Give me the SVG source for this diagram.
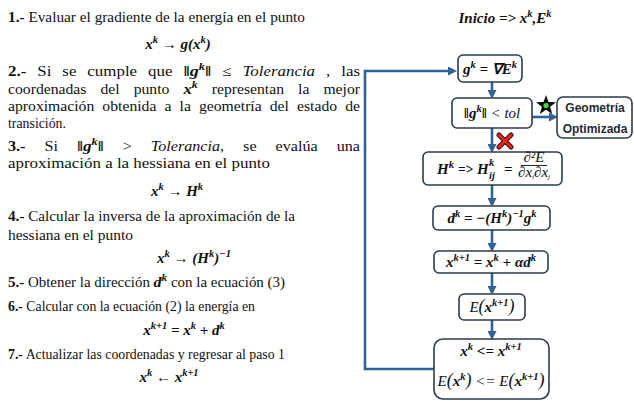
<svg xmlns="http://www.w3.org/2000/svg" width="634" height="401" viewBox="0 0 634 401">
<style>
.t{font-family:"Liberation Serif","Times New Roman",serif;font-size:14px;fill:#111}
.b{font-weight:bold}
.mi{font-style:italic}
.fm{font-family:"Liberation Serif","Times New Roman",serif;font-size:15px;font-style:italic;font-weight:bold;fill:#111}
.fc{font-family:"Liberation Serif","Times New Roman",serif;font-size:15px;font-style:italic;font-weight:bold;fill:#111}
.it{font-weight:normal}
.s{font-size:10.5px}
.s2{font-size:10.5px}
.box{fill:#fff;stroke:#2e3b4c;stroke-width:1.6}
.con{fill:none;stroke:#2f6394;stroke-width:2.6}
.sans{font-family:"Liberation Sans",Arial,sans-serif;font-weight:bold;font-size:12px;fill:#1e2a38}
</style>
<defs>
<marker id="ah" markerUnits="userSpaceOnUse" markerWidth="9" markerHeight="9" refX="2" refY="4.5" orient="auto">
<path d="M0,0 L9,4.5 L0,9 z" fill="#2f6394"/>
</marker>
</defs>
<rect width="634" height="401" fill="#fff"/>

<g id="steps">
<text class="t" x="8" y="22" textLength="297" lengthAdjust="spacingAndGlyphs"><tspan class="b">1.-</tspan> Evaluar el gradiente de la energía en el punto</text>
<text class="fm" x="178" y="49" text-anchor="middle">x<tspan class="s" dy="-6">k</tspan><tspan dy="6"> → g(x</tspan><tspan class="s" dy="-6">k</tspan><tspan dy="6">)</tspan></text>

<text class="t" x="8" y="76" word-spacing="5.6" textLength="352" lengthAdjust="spacingAndGlyphs"><tspan class="b">2.-</tspan> Si se cumple que <tspan class="fm">‖g</tspan><tspan class="fm s" dy="-6">k</tspan><tspan class="fm" dy="6">‖</tspan> ≤ <tspan class="mi">Tolerancia</tspan> , las</text>
<text class="t" x="8" y="94" word-spacing="9" textLength="352" lengthAdjust="spacingAndGlyphs">coordenadas del punto <tspan class="fm">x</tspan><tspan class="fm s" dy="-6">k</tspan><tspan dy="6"> representan la mejor</tspan></text>
<text class="t" x="8" y="111" word-spacing="3.7" textLength="352" lengthAdjust="spacingAndGlyphs">aproximación obtenida a la geometría del estado de</text>
<text class="t" x="8" y="128" textLength="58" lengthAdjust="spacingAndGlyphs">transición.</text>

<text class="t" x="8" y="151" word-spacing="13" textLength="352" lengthAdjust="spacingAndGlyphs"><tspan class="b">3.-</tspan> Si <tspan class="fm">‖g</tspan><tspan class="fm s" dy="-6">k</tspan><tspan class="fm" dy="6">‖</tspan> &gt; <tspan class="mi">Tolerancia,</tspan> se evalúa una</text>
<text class="t" x="8" y="168" textLength="262" lengthAdjust="spacingAndGlyphs">aproximación a la hessiana en el punto</text>

<text class="fm" x="177" y="196" text-anchor="middle">x<tspan class="s" dy="-6">k</tspan><tspan dy="6"> → H</tspan><tspan class="s" dy="-6">k</tspan></text>

<text class="t" x="8" y="221" textLength="287" lengthAdjust="spacingAndGlyphs"><tspan class="b">4.-</tspan> Calcular la inversa de la aproximación de la</text>
<text class="t" x="8" y="240" textLength="125" lengthAdjust="spacingAndGlyphs">hessiana en el punto</text>

<text class="fm" x="194" y="263" text-anchor="middle">x<tspan class="s" dy="-6">k</tspan><tspan dy="6"> → (H</tspan><tspan class="s" dy="-6">k</tspan><tspan dy="6">)</tspan><tspan class="s" dy="-6">−1</tspan></text>

<text class="t" x="8" y="287" textLength="277" lengthAdjust="spacingAndGlyphs"><tspan class="b">5.-</tspan> Obtener la dirección <tspan class="fm">d</tspan><tspan class="fm s" dy="-6">k</tspan><tspan dy="6"> con la ecuación (3)</tspan></text>
<text class="t" x="8" y="311" textLength="247" lengthAdjust="spacingAndGlyphs"><tspan class="b">6.-</tspan> Calcular con la ecuación (2) la energía en</text>

<text class="fm" x="184" y="335" text-anchor="middle">x<tspan class="s" dy="-6">k+1</tspan><tspan dy="6"> = x</tspan><tspan class="s" dy="-6">k</tspan><tspan dy="6"> +  d</tspan><tspan class="s" dy="-6">k</tspan></text>

<text class="t" x="8" y="359" textLength="277" lengthAdjust="spacingAndGlyphs"><tspan class="b">7.-</tspan> Actualizar las coordenadas y regresar al paso 1</text>
<text class="fm" x="169" y="382" text-anchor="middle">x<tspan class="s" dy="-6">k</tspan><tspan dy="6"> ← x</tspan><tspan class="s" dy="-6">k+1</tspan></text>
</g>

<g id="inicio">
<text class="fc" x="505" y="23" text-anchor="middle" font-size="16">Inicio =&gt; x<tspan class="s2" dy="-6">k</tspan><tspan dy="6">,E</tspan><tspan class="s2" dy="-6">k</tspan></text>
</g>

<g id="connectors">
<path class="con" d="M434,369 H365 V71 H450" stroke-width="3" marker-end="url(#ah)"/>
<path class="con" d="M492,82 V92" marker-end="url(#ah)"/>
<path class="con" d="M532,117 H551" marker-end="url(#ah)"/>
<path class="con" d="M492,128 V146" marker-end="url(#ah)"/>
<path class="con" d="M492,185 V200" marker-end="url(#ah)"/>
<path class="con" d="M492,230 V245" marker-end="url(#ah)"/>
<path class="con" d="M492,273 V288" marker-end="url(#ah)"/>
<path class="con" d="M492,320 V333" marker-end="url(#ah)"/>
</g>

<g id="gradiente">
<rect class="box" x="458" y="55" width="64" height="27" rx="5"/>
<text class="fc" x="490" y="74" text-anchor="middle">g<tspan class="s2" dy="-6">k</tspan><tspan dy="6"> = ∇E</tspan><tspan class="s2" dy="-6">k</tspan></text>
</g>

<g id="tolerancia">
<rect class="box" x="452" y="98" width="80" height="30" rx="5"/>
<text class="fc" x="492" y="118" text-anchor="middle">‖g<tspan class="s2" dy="-6">k</tspan><tspan dy="6">‖ </tspan><tspan class="it">&lt; tol</tspan></text>
</g>

<g id="geometria">
<rect class="box" x="557" y="97" width="75" height="41" rx="6"/>
<text class="sans" x="595" y="112" text-anchor="middle">Geometría</text>
<text class="sans" x="595" y="133" text-anchor="middle">Optimizada</text>
</g>

<g id="estrella">
<polygon points="546,95 548.5,102 556,102.2 550.1,106.8 552.2,114 546,109.8 539.8,114 541.9,106.8 536,102.2 543.5,102" fill="#0a0a0a"/>
<circle cx="546" cy="105.5" r="2.6" fill="#3ddc3d"/>
</g>

<g id="cruz">
<path d="M499,135 L511,147 M511,135 L499,147" stroke="#3a1010" stroke-width="5" stroke-linecap="round"/>
<path d="M499,135 L511,147 M511,135 L499,147" stroke="#e3241d" stroke-width="3" stroke-linecap="round"/>
</g>

<g id="hessiana">
<rect class="box" x="423" y="152" width="139" height="33" rx="5"/>
<text class="fc" x="437" y="174">H<tspan class="s2" dy="-6">k</tspan></text>
<text class="fc" x="458" y="174" textLength="15" lengthAdjust="spacingAndGlyphs">=&gt;</text>
<text class="fc" x="477" y="174">H</text>
<text class="fc s2" x="489" y="166">k</text>
<text class="fc s2" x="489" y="179">ij</text>
<text class="fc" x="504" y="174">=</text>
<text class="fc it" x="534" y="162" text-anchor="middle" font-size="10">∂²E</text>
<line x1="521" y1="165.5" x2="547" y2="165.5" stroke="#111" stroke-width="0.9"/>
<text class="fc it" x="534" y="177" text-anchor="middle" font-size="10">∂x<tspan font-size="7" dy="2">i</tspan><tspan dy="-2">∂x</tspan><tspan font-size="7" dy="2">j</tspan></text>
</g>

<g id="direccion">
<rect class="box" x="433" y="206" width="117" height="24" rx="5"/>
<text class="fc" x="492" y="223" text-anchor="middle">d<tspan class="s2" dy="-6">k</tspan><tspan dy="6"> = −(H</tspan><tspan class="s2" dy="-6">k</tspan><tspan dy="6">)</tspan><tspan class="s2" dy="-6">−1</tspan><tspan dy="6">g</tspan><tspan class="s2" dy="-6">k</tspan></text>
</g>

<g id="actualiza">
<rect class="box" x="434" y="251" width="114" height="22" rx="5"/>
<text class="fc" x="491" y="267" text-anchor="middle">x<tspan class="s2" dy="-6">k+1</tspan><tspan dy="6"> = x</tspan><tspan class="s2" dy="-6">k</tspan><tspan dy="6"> + αd</tspan><tspan class="s2" dy="-6">k</tspan></text>
</g>

<g id="energia">
<rect class="box" x="459" y="294" width="66" height="26" rx="5"/>
<text class="fc" x="492" y="312" text-anchor="middle"><tspan class="it">E</tspan><tspan class="it" font-size="18">(</tspan>x<tspan class="s2" dy="-6">k+1</tspan><tspan class="it" font-size="18" dy="6">)</tspan></text>
</g>

<g id="reemplazo">
<rect class="box" x="434" y="339" width="115" height="60" rx="9"/>
<text class="fc" x="491" y="356" text-anchor="middle">x<tspan class="s2" dy="-6">k</tspan><tspan dy="6"> &lt;= x</tspan><tspan class="s2" dy="-6">k+1</tspan></text>
<text class="fc" x="491" y="386" text-anchor="middle"><tspan class="it">E</tspan><tspan class="it" font-size="18">(</tspan>x<tspan class="s2" dy="-6">k</tspan><tspan class="it" font-size="18" dy="6">)</tspan><tspan class="it"> &lt;= E</tspan><tspan class="it" font-size="18">(</tspan>x<tspan class="s2" dy="-6">k+1</tspan><tspan class="it" font-size="18" dy="6">)</tspan></text>
</g>
</svg>
